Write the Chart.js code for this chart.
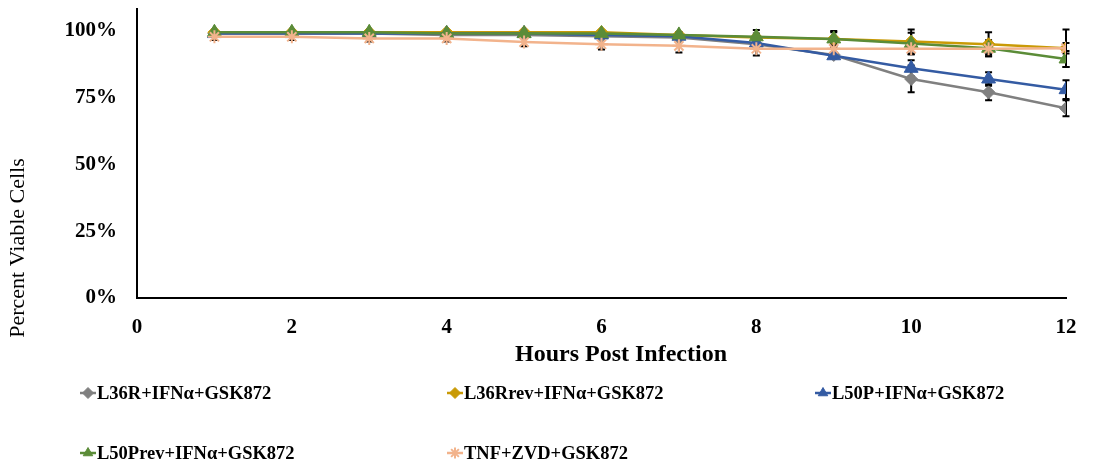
<!DOCTYPE html>
<html>
<head>
<meta charset="utf-8">
<script src="https://cdn.jsdelivr.net/npm/chart.js@4"></script>
<style>
  html, body { margin: 0; padding: 0; background: #fff; }
  #wrap { width: 1097px; height: 467px; position: relative; }
</style>
</head>
<body>
<div id="wrap"><canvas id="chart" width="1097" height="467"></canvas></div>
<script>
// valores
const hours = [1, 2, 3, 4, 5, 6, 7, 8, 9, 10, 11, 12];
const seriesNames = ['L36R+IFNα+GSK872', 'L36Rrev+IFNα+GSK872', 'L50P+IFNα+GSK872', 'L50Prev+IFNα+GSK872', 'TNF+ZVD+GSK872'];
const l36r = [0.99, 0.99, 0.99, 0.985, 0.985, 0.98, 0.975, 0.95, 0.91, 0.82, 0.77, 0.71];
const l36rrev = [0.995, 0.995, 0.995, 0.995, 0.995, 0.995, 0.985, 0.975, 0.97, 0.96, 0.95, 0.935];
const l50p = [0.99, 0.99, 0.99, 0.99, 0.99, 0.985, 0.98, 0.955, 0.907, 0.86, 0.82, 0.78];
const l50prev = [0.995, 0.995, 0.995, 0.99, 0.99, 0.99, 0.985, 0.978, 0.97, 0.953, 0.935, 0.895];
const tnf = [0.978, 0.978, 0.972, 0.972, 0.958, 0.95, 0.944, 0.933, 0.933, 0.933, 0.933, 0.935];
// barras de error (+/-)
const errL36r = [0.008, 0.008, 0.008, 0.008, 0.008, 0.01, 0.01, 0.015, 0.01, 0.05, 0.03, 0.03];
const errL36rrev = [0.005, 0.005, 0.005, 0.005, 0.005, 0.005, 0.01, 0.015, 0.025, 0.045, 0.045, 0.07];
const errL50p = [0.008, 0.008, 0.008, 0.008, 0.008, 0.008, 0.01, 0.015, 0.01, 0.03, 0.025, 0.035];
const errL50prev = [0.005, 0.005, 0.005, 0.005, 0.005, 0.005, 0.01, 0.025, 0.03, 0.04, 0.03, 0.03];
const errTnf = [0.012, 0.012, 0.012, 0.012, 0.015, 0.02, 0.025, 0.025, 0.02, 0.02, 0.02, 0.02];
const yTicks = [0, 0.25, 0.5, 0.75, 1];
const xTicks = [0, 2, 4, 6, 8, 10, 12];
const xTitle = 'Hours Post Infection';
const yTitle = 'Percent Viable Cells';

const FONT = 'Liberation Serif';
const colors = ['#808080', '#C99A06', '#345BA3', '#5B8C38', '#F2B38C'];
const styles = ['rectRot', 'rectRot', 'triangle', 'triangle', 'star'];
const radii = [6.5, 6.5, 8, 8, 6.5];
const values = [l36r, l36rrev, l50p, l50prev, tnf];
const errors = [errL36r, errL36rrev, errL50p, errL50prev, errTnf];

const datasets = seriesNames.map((name, i) => ({
    label: name,
    data: hours.map((h, j) => ({ x: h, y: values[i][j] })),
    errors: errors[i],
    borderColor: colors[i],
    backgroundColor: colors[i],
    pointBackgroundColor: colors[i],
    pointBorderColor: colors[i],
    pointStyle: styles[i],
    pointRadius: radii[i],
    pointBorderWidth: i === 4 ? 2 : 1,
    borderWidth: 2.5,
    tension: 0,
    order: 4 - i
}));

// barras de error dibujadas con las escalas
const errorBars = {
    id: 'errorBars',
    beforeDatasetsDraw(chart) {
        const { ctx, scales: { x, y } } = chart;
        ctx.save();
        ctx.strokeStyle = '#000';
        ctx.lineWidth = 2;
        chart.data.datasets.forEach(ds => {
            ds.data.forEach((p, j) => {
                const e = ds.errors[j];
                const px = x.getPixelForValue(p.x);
                const top = y.getPixelForValue(p.y + e);
                const bot = y.getPixelForValue(p.y - e);
                ctx.beginPath();
                ctx.moveTo(px, top); ctx.lineTo(px, bot);
                ctx.moveTo(px - 3.5, top); ctx.lineTo(px + 3.5, top);
                ctx.moveTo(px - 3.5, bot); ctx.lineTo(px + 3.5, bot);
                ctx.stroke();
            });
        });
        ctx.restore();
    }
};

// títulos de ejes y leyenda en dos filas como en el original
const customLegend = {
    id: 'customLegend',
    afterDraw(chart) {
        const { ctx } = chart;
        ctx.save();
        ctx.fillStyle = '#000';
        ctx.textAlign = 'center';
        ctx.textBaseline = 'middle';
        ctx.font = 'bold 24px "' + FONT + '"';
        ctx.fillText(xTitle, 621, 355);
        ctx.save();
        ctx.translate(18, 248);
        ctx.rotate(-Math.PI / 2);
        ctx.font = '22px "' + FONT + '"';
        ctx.fillText(yTitle, 0, 0);
        ctx.restore();

        const cols = [80, 447, 815];
        const rows = [393, 453];
        ctx.textAlign = 'left';
        chart.data.datasets.forEach((ds, i) => {
            const lx = cols[i % 3];
            const ly = rows[Math.floor(i / 3)];
            ctx.strokeStyle = ds.borderColor;
            ctx.fillStyle = ds.borderColor;
            ctx.lineWidth = 2.5;
            ctx.beginPath();
            ctx.moveTo(lx, ly); ctx.lineTo(lx + 16, ly);
            ctx.stroke();
            ctx.lineWidth = ds.pointBorderWidth;
            Chart.helpers.drawPoint(ctx, { pointStyle: ds.pointStyle, radius: 5.5, rotation: 0, borderWidth: ds.pointBorderWidth }, lx + 8, ly);
            ctx.fillStyle = '#000';
            ctx.font = 'bold 18.5px "' + FONT + '"';
            ctx.fillText(ds.label, lx + 17, ly + 1);
        });
        ctx.restore();
    }
};

new Chart(document.getElementById('chart'), {
    type: 'line',
    data: { datasets },
    plugins: [errorBars, customLegend],
    options: {
        responsive: false,
        animation: false,
        layout: { padding: { top: 2, right: 31, bottom: 93, left: 0 } },
        plugins: {
            legend: { display: false },
            tooltip: { enabled: false }
        },
        scales: {
            x: {
                type: 'linear',
                min: 0,
                max: 12,
                afterBuildTicks: s => { s.ticks = xTicks.map(v => ({ value: v })); },
                afterFit: s => { s.height = 76; s.paddingLeft = 0; s.paddingRight = 0; },
                grid: { display: false, drawTicks: false },
                border: { display: true, color: '#000', width: 2 },
                ticks: { color: '#000', padding: 17, font: { family: FONT, size: 21, weight: 'bold' } }
            },
            y: {
                min: 0,
                max: 1.082,
                afterBuildTicks: s => { s.ticks = yTicks.map(v => ({ value: v })); },
                afterFit: s => { s.width = 137; s.paddingTop = 0; s.paddingBottom = 0; },
                grid: { display: false, drawTicks: false },
                border: { display: true, color: '#000', width: 2 },
                ticks: {
                    color: '#000', padding: 20,
                    font: { family: FONT, size: 21, weight: 'bold' },
                    callback: v => Math.round(v * 100) + '%'
                }
            }
        }
    }
});
</script>
</body>
</html>
